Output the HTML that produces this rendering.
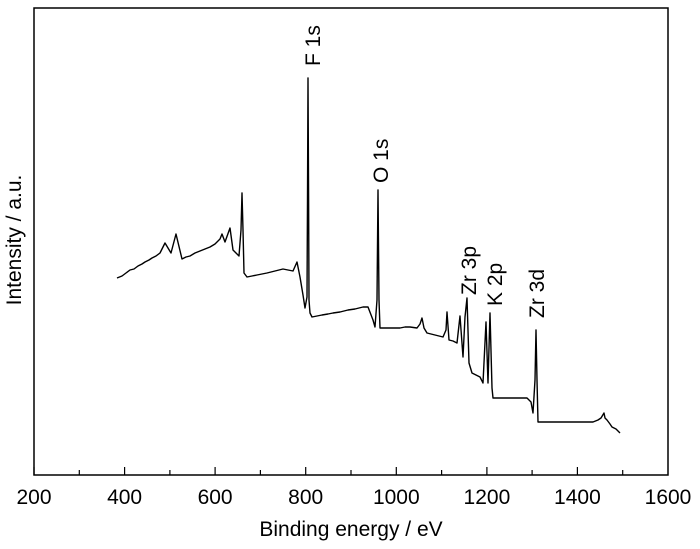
<!DOCTYPE html>
<html><head><meta charset="utf-8"><style>body{margin:0;background:#fff}svg{display:block}</style></head><body>
<svg width="700" height="549" viewBox="0 0 700 549" xmlns="http://www.w3.org/2000/svg" font-family="Liberation Sans, Arial, sans-serif">
<rect x="34" y="8" width="634" height="467" fill="none" stroke="#000" stroke-width="1.5"/>
<g stroke="#000" stroke-width="1.2">
<line x1="34" y1="475" x2="34" y2="467"/><line x1="124.6" y1="475" x2="124.6" y2="467"/><line x1="215.1" y1="475" x2="215.1" y2="467"/><line x1="305.7" y1="475" x2="305.7" y2="467"/><line x1="396.3" y1="475" x2="396.3" y2="467"/><line x1="486.9" y1="475" x2="486.9" y2="467"/><line x1="577.4" y1="475" x2="577.4" y2="467"/>
<line x1="79.3" y1="475" x2="79.3" y2="470"/><line x1="169.9" y1="475" x2="169.9" y2="470"/><line x1="260.4" y1="475" x2="260.4" y2="470"/><line x1="351" y1="475" x2="351" y2="470"/><line x1="441.6" y1="475" x2="441.6" y2="470"/><line x1="532.1" y1="475" x2="532.1" y2="470"/><line x1="622.7" y1="475" x2="622.7" y2="470"/>
</g>
<g font-size="21" text-anchor="middle" fill="#000">
<text x="34" y="504">200</text><text x="124.6" y="504">400</text><text x="215.1" y="504">600</text><text x="305.7" y="504">800</text><text x="396.3" y="504">1000</text><text x="486.9" y="504">1200</text><text x="577.4" y="504">1400</text><text x="668" y="504">1600</text>
<text x="351" y="536">Binding energy / eV</text>
<text transform="translate(21,240) rotate(-90)">Intensity / a.u.</text>
</g>
<g font-size="21" fill="#000">
<text transform="translate(320,66) rotate(-90)">F 1s</text>
<text transform="translate(388,183) rotate(-90)">O 1s</text>
<text transform="translate(476,295) rotate(-90)">Zr 3p</text>
<text transform="translate(502,306) rotate(-90)">K 2p</text>
<text transform="translate(544,318) rotate(-90)">Zr 3d</text>
</g>
<polyline fill="none" stroke="#000" stroke-width="1.4" stroke-linejoin="round" points="117,278 122,276 126,273 130,270 134,269 138,266 142,264 145,262 149,260 152,258 156,256 160,253 165,243 171,253 176,234 182,259 186,257 190,256 195,253 200,251 205,249 210,247 215,244 220,239 222,234 225,242 230,228 233,250 239,256 241,230 242,193 243,230 244,273 247,277 252,276 257,275 262,274 267,273 271,272 275,271 279,270 283,269 288,270 293,271 297,262 300,277 303,295 305,308 307,297 307.5,200 308,78 308.6,200 309,300 310,313 312,317 317,316 322,315 328,314 333,313 340,312 348,310 355,309 363,307 368,307 373,320 375,327 377,300 378,190 379,300 380,328 385,328 390,328 395,328 400,328 405,327 410,327 417,328 420,324 422,318 424,328 427,333 431,334 435,335 439,336 443,337 446,330 447,312 449,340 453,341 457,343 460,316 463,357 465,317 467,298 469,363 472,373 476,375 480,377 483,383 486,322 488,383 490,313 492,388 493,398 500,398 510,398 520,398 527,398 531,402 533,413 535,380 536,330 537,380 538,422 550,422 570,422 593,422 598,420 601,418 604,413 605,418 607,420 610,424 612,427 616,429 620,433"/>
</svg>
</body></html>
